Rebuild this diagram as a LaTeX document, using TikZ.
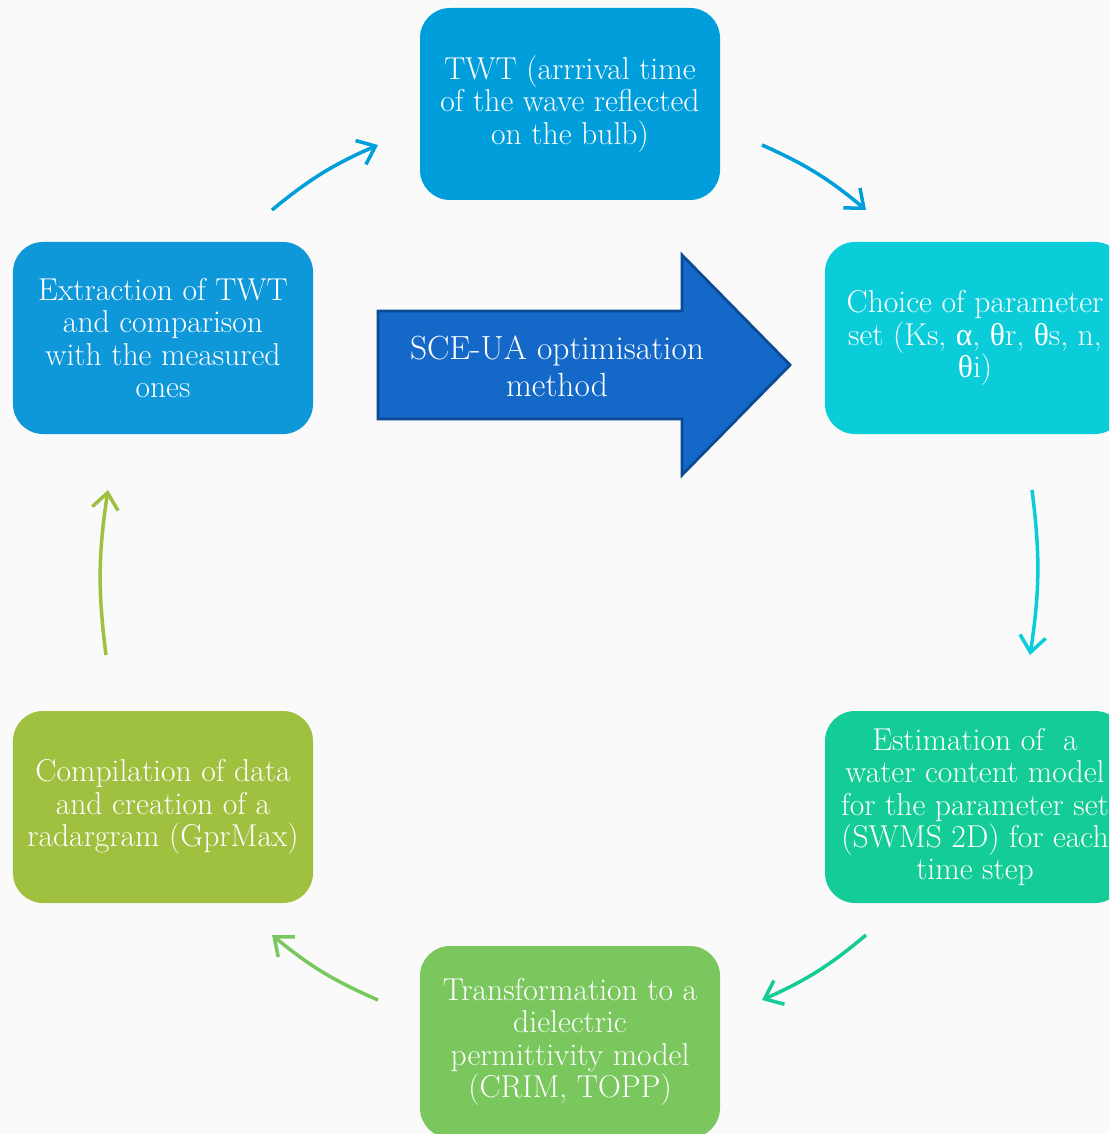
\documentclass[tikz,border=0pt]{standalone}
\usepackage{fontspec}
\newfontfamily\grk{Liberation Serif}
\usetikzlibrary{arrows.meta}

\definecolor{twtblue}{HTML}{009EDB}
\definecolor{extrblue}{HTML}{0E97D9}
\definecolor{choicecyan}{HTML}{0BCDDA}
\definecolor{estteal}{HTML}{14CC96}
\definecolor{transgreen}{HTML}{7AC75E}
\definecolor{compolive}{HTML}{A0C040}
\definecolor{scefill}{HTML}{1468C8}
\definecolor{sceline}{HTML}{0C4A94}

\begin{document}
\begin{tikzpicture}[x=0.25mm, y=-0.25mm,
  stepbox/.style={rounded corners=7.5mm, minimum width=75mm, minimum height=48mm,
    inner sep=0pt, align=center, text=white, font=\fontsize{22.5}{23.1}\selectfont},
  loop/.style={line width=2.5pt, -{Straight Barb[length=4mm, width=6.5mm]}}]

  % Hintergrund und Rahmen
  \clip (0,0) rectangle (1109,1134);
  \fill[black!2] (0,0) rectangle (1109,1134);

  % Kästchen im Kreis
  \node[stepbox, fill=twtblue] (twt) at (570,104)
    {TWT (arrrival time\\of the wave reflected\\on the bulb)};
  \node[stepbox, fill=choicecyan] (choice) at (975,338)
    {Choice of parameter\\set (Ks, {\grk α}, {\grk θ}r, {\grk θ}s, n,\\{\grk θ}i)};
  \node[stepbox, fill=estteal] (estim) at (975,807)
    {Estimation of~ a\\water content model\\for the parameter set\\(SWMS \oldstylenums{2}D) for each\\time step};
  \node[stepbox, fill=transgreen] (trans) at (570,1042)
    {Transformation to a\\dielectric\\permittivity model\\(CRIM, TOPP)};
  \node[stepbox, fill=compolive] (compil) at (163,807)
    {Compilation of data\\and creation of a\\radargram (GprMax)};
  \node[stepbox, fill=extrblue] (extr) at (163,338)
    {Extraction of TWT\\and comparison\\with the measured\\ones};

  % Großer Pfeil in der Mitte
  \draw[fill=scefill, draw=sceline, line width=2pt, line join=miter]
    (378,311) -- (682,311) -- (682,255) -- (790,365) -- (682,475) -- (682,419) -- (378,419) -- cycle;
  \node[text=white, align=center, font=\fontsize{23.8}{26.3}\selectfont] (sce) at (557,366)
    {SCE-UA optimisation\\method};

  % Enden der Verbindungspfeile
  \coordinate (a1s) at (272,210);  \coordinate (a1e) at (378,145);
  \coordinate (a2s) at (762,145);  \coordinate (a2e) at (866,210);
  \coordinate (a3s) at (1032,490); \coordinate (a3e) at (1030,655);
  \coordinate (a4s) at (866,935);  \coordinate (a4e) at (762,1000);
  \coordinate (a5s) at (378,1000); \coordinate (a5e) at (272,935);
  \coordinate (a6s) at (106,655);  \coordinate (a6e) at (108,490);

  % Gebogene Pfeile im Uhrzeigersinn
  \foreach \n/\c in {1/twtblue, 2/twtblue, 3/choicecyan, 4/estteal, 5/transgreen, 6/compolive} {
    \draw[loop, draw=\c] (a\n s) to[bend left=8] (a\n e);
  }
\end{tikzpicture}
\end{document}
